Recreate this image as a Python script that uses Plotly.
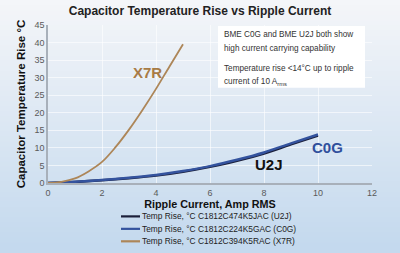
import plotly.graph_objects as go

# Data
u2j_x = [0, 1, 2, 3, 4, 5, 6, 7, 8, 9, 10]
u2j_y = [0, 0.3, 0.75, 1.35, 2.1, 3.2, 4.6, 6.3, 8.4, 11.0, 13.5]
c0g_x = [0, 1, 2, 3, 4, 5, 6, 7, 8, 9, 10]
c0g_y = [0, 0.35, 0.85, 1.5, 2.3, 3.4, 4.8, 6.6, 8.7, 11.3, 13.8]
x7r_x = [0, 0.5, 1, 1.5, 2, 2.5, 3, 3.5, 4, 4.5, 5]
x7r_y = [0, 0.35, 1.3, 3.3, 6.0, 10.2, 15.2, 20.8, 26.8, 33.2, 39.5]

names = ["Temp Rise, °C C1812C474K5JAC (U2J)",
         "Temp Rise, °C C1812C224K5GAC (C0G)",
         "Temp Rise, °C C1812C394K5RAC (X7R)"]
colors = ["#1b1f3a", "#34539e", "#ad8658"]
x_ticks = [0, 2, 4, 6, 8, 10, 12]
y_ticks = [0, 5, 10, 15, 20, 25, 30, 35, 40, 45]

FONT = "Liberation Sans, Arial, sans-serif"
L, R, T, B = 48, 28, 25, 69.5
PW, PH = 400 - L - R, 253 - T - B


def px(xp):
    return (xp - L) / PW


def py(yp):
    return (253 - B - yp) / PH


fig = go.Figure()
fig.add_trace(go.Scatter(x=u2j_x, y=u2j_y, mode="lines", name=names[0],
                         line=dict(color=colors[0], width=2.5, shape="spline")))
fig.add_trace(go.Scatter(x=c0g_x, y=c0g_y, mode="lines", name=names[1],
                         line=dict(color=colors[1], width=2.5, shape="spline")))
fig.add_trace(go.Scatter(x=x7r_x, y=x7r_y, mode="lines", name=names[2],
                         line=dict(color=colors[2], width=1.8, shape="spline")))

# gradient background via stripes
shapes = []
n = 50
top = (0xf4, 0xf6, 0xf9)
bot = (0xc4, 0xd9, 0xee)
for i in range(n):
    t = i / (n - 1)
    c = tuple(int(top[k] + (bot[k] - top[k]) * t) for k in range(3))
    y1p = i * 253 / n
    y0p = (i + 1) * 253 / n + 1
    shapes.append(dict(type="rect", xref="paper", yref="paper",
                       x0=px(-5), x1=px(405),
                       y0=py(y0p), y1=py(y1p),
                       fillcolor="rgb(%d,%d,%d)" % c, line=dict(width=0),
                       layer="below"))
# text box
shapes.append(dict(type="rect", xref="paper", yref="paper",
                   x0=px(218), x1=px(365), y0=py(88), y1=py(26),
                   fillcolor="white", line=dict(width=0), layer="above"))

# manual legend
leg_rows = [217, 229.5, 242]
for i, yp in enumerate(leg_rows):
    shapes.append(dict(type="line", xref="paper", yref="paper",
                       x0=px(121), x1=px(140), y0=py(yp), y1=py(yp),
                       line=dict(color=colors[i], width=2.2), layer="above"))

fig.update_layout(
    width=400, height=253,
    margin=dict(l=L, r=R, t=T, b=B, autoexpand=False),
    paper_bgcolor="#e6eef7",
    plot_bgcolor="rgba(0,0,0,0)",
    font=dict(family=FONT, color="#333333"),
    title=dict(text="<b>Capacitor Temperature Rise vs Ripple Current</b>",
               x=0.5, xanchor="center", y=1 - 10.5 / 253, yanchor="middle",
               font=dict(size=12, color="#222222")),
    shapes=shapes,
    showlegend=False,
)

fig.update_xaxes(range=[0, 12], tickvals=x_ticks, showgrid=True,
                 gridcolor="rgba(255,255,255,0.6)", gridwidth=1,
                 showline=True, linecolor="#a8b0ba", linewidth=1.5,
                 zeroline=False, ticks="", tickfont=dict(size=9, color="#5a5a5a"),
                 title=dict(text="<b>Ripple Current, Amp RMS</b>",
                            font=dict(size=10.8, color="#111111"), standoff=2))
fig.update_yaxes(range=[0, 45], tickvals=y_ticks, showgrid=True,
                 gridcolor="rgba(255,255,255,0.6)", gridwidth=1,
                 showline=True, linecolor="#a8b0ba", linewidth=1.5,
                 zeroline=False, ticks="", tickfont=dict(size=9, color="#5a5a5a"),
                 title=dict(text="<b>Capacitor Temperature Rise °C</b>",
                            font=dict(size=11.5, color="#111111"), standoff=6))

# curve labels
fig.add_annotation(x=3.68, y=31.5, text="<b>X7R</b>", showarrow=False,
                   font=dict(size=15, color="#a87b45", family=FONT))
fig.add_annotation(x=10.35, y=10.0, text="<b>C0G</b>", showarrow=False,
                   font=dict(size=15, color="#2f4f9c", family=FONT))
fig.add_annotation(x=8.2, y=5.2, text="<b>U2J</b>", showarrow=False,
                   font=dict(size=15, color="#111111", family=FONT))

# text box annotations
box_lines = [("BME C0G and BME U2J both show", 35),
             ("high current carrying capability", 49),
             ("Temperature rise &lt;14°C up to ripple", 69),
             ("current of 10 A<sub>rms</sub>", 82)]
for txt, ypix in box_lines:
    fig.add_annotation(xref="paper", yref="paper",
                       x=px(222), y=py(ypix),
                       xanchor="left", yanchor="middle", text=txt, showarrow=False,
                       font=dict(size=8.2, color="#333333", family=FONT))

# legend texts
for i, yp in enumerate(leg_rows):
    fig.add_annotation(xref="paper", yref="paper", x=px(140), y=py(yp),
                       xanchor="left", yanchor="middle", text=names[i],
                       showarrow=False,
                       font=dict(size=8.4, color="#222222", family=FONT))

fig.write_html("out.html")
